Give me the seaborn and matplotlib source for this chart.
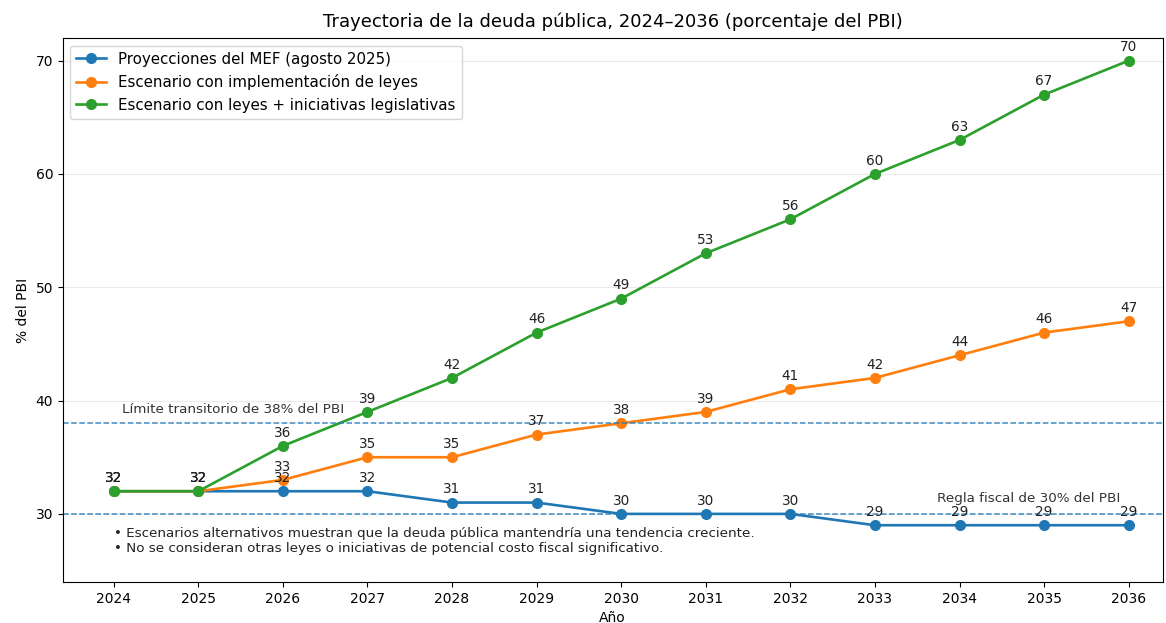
import numpy as np
import pandas as pd
import seaborn as sns
import matplotlib.pyplot as plt

years = [2024, 2025, 2026, 2027, 2028, 2029, 2030, 2031, 2032, 2033, 2034, 2035, 2036]
mef = [32, 32, 32, 32, 31, 31, 30, 30, 30, 29, 29, 29, 29]
leyes = [32, 32, 33, 35, 35, 37, 38, 39, 41, 42, 44, 46, 47]
iniciativas = [32, 32, 36, 39, 42, 46, 49, 53, 56, 60, 63, 67, 70]
series_names = ["Proyecciones del MEF (agosto 2025)",
                "Escenario con implementación de leyes",
                "Escenario con leyes + iniciativas legislativas"]
colors = ["#1f77b4", "#ff7f0e", "#2ca02c"]
limite_transitorio = 38
regla_fiscal = 30
notas = ["• Escenarios alternativos muestran que la deuda pública mantendría una tendencia creciente.",
         "• No se consideran otras leyes o iniciativas de potencial costo fiscal significativo."]

fig = plt.figure(figsize=(11.66, 6.23), dpi=100)
ax = fig.add_axes([0.054, 0.066, 0.943, 0.873])

for name, vals, c in zip(series_names, [mef, leyes, iniciativas], colors):
    df = pd.DataFrame({'Año': years, 'valor': vals})
    sns.lineplot(data=df, x='Año', y='valor', marker='o', color=c, label=name,
                 markersize=8, markeredgewidth=0, linewidth=1.9, ax=ax)
    for x, y in zip(years, vals):
        ax.annotate(f"{y}", (x, y), textcoords='offset points', xytext=(0, 4.5),
                    ha='center', va='bottom', fontsize=9.8, color='#222222')

ax.axhline(limite_transitorio, color=colors[0], linestyle='--', linewidth=1.1, alpha=0.85)
ax.axhline(regla_fiscal, color=colors[0], linestyle='--', linewidth=1.1, alpha=0.85)
ax.text(2024.1, limite_transitorio + 0.6, "Límite transitorio de 38% del PBI",
        fontsize=9.7, color='#333333', ha='left', va='bottom')
ax.text(2035.9, regla_fiscal + 0.75, "Regla fiscal de 30% del PBI",
        fontsize=9.7, color='#333333', ha='right', va='bottom')
ax.text(2024.0, 28.8, "\n".join(notas), fontsize=9.7, color='#222222',
        ha='left', va='top', linespacing=1.2)

ax.set_xlim(2023.4, 2036.4)
ax.set_ylim(24, 72)
ax.set_xticks(years)
ax.set_yticks([30, 40, 50, 60, 70])
ax.tick_params(labelsize=10)
ax.grid(axis='y', color='#dddddd', alpha=0.6)
ax.set_axisbelow(True)
ax.set_xlabel("Año", fontsize=10)
ax.set_ylabel("% del PBI", fontsize=10)
ax.set_title("Trayectoria de la deuda pública, 2024–2036 (porcentaje del PBI)", fontsize=13, pad=8)
ax.legend(loc='upper left', fontsize=10.8)

fig.savefig("out.png", dpi=100)
